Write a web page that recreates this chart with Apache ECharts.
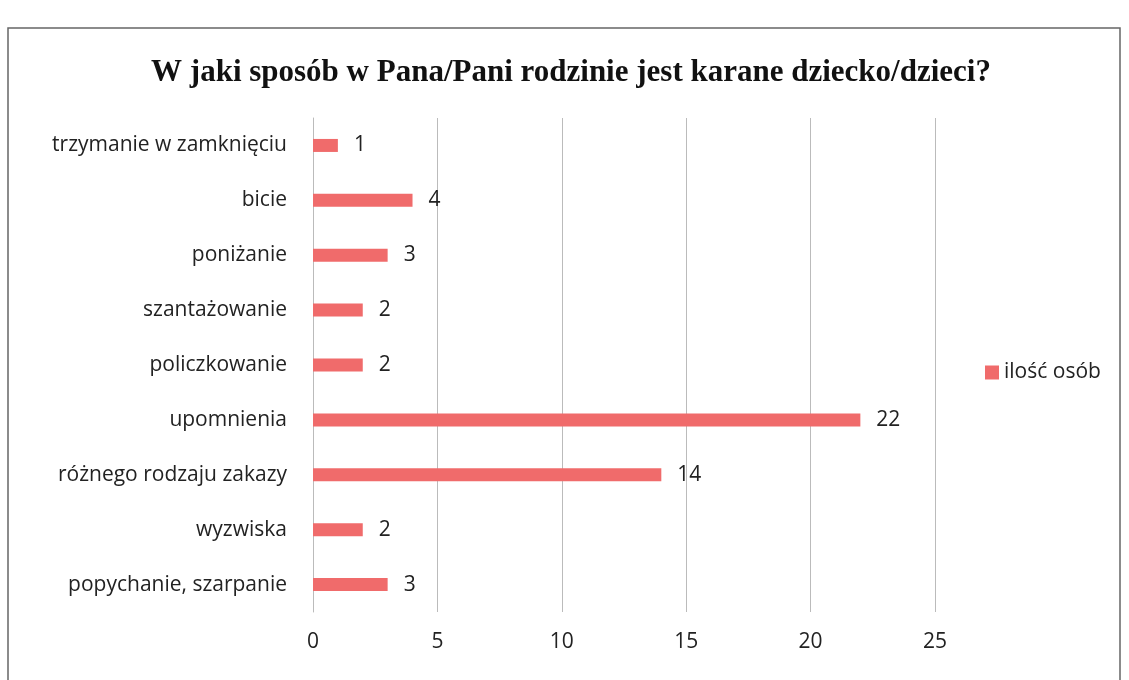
<!DOCTYPE html>
<html>
<head>
<meta charset="utf-8">
<script src="https://cdn.jsdelivr.net/npm/echarts@6/dist/echarts.min.js"></script>
<style>
  html, body { margin: 0; padding: 0; background: #fff; }
  #chart { width: 1129px; height: 680px; }
</style>
</head>
<body>
<div id="chart"></div>
<script>
// categories from top to bottom
var categories = ['trzymanie w zamknięciu', 'bicie', 'poniżanie', 'szantażowanie', 'policzkowanie',
  'upomnienia', 'różnego rodzaju zakazy', 'wyzwiska', 'popychanie, szarpanie']
var values = [1, 4, 3, 2, 2, 22, 14, 2, 3]
var seriesName = 'ilość osób'
var titleText = 'W jaki sposób w Pana/Pani rodzinie jest karane dziecko/dzieci?'

var chart = echarts.init(document.getElementById('chart'))

var option = {
  backgroundColor: '#fff',
  animation: false,
  title: {
    text: titleText,
    left: 566,
    top: 52,
    textAlign: 'center',
    textStyle: {
      fontFamily: 'Liberation Serif',
      fontWeight: 'bold',
      fontSize: 31,
      color: '#111'
    }
  },
  graphic: [{
    type: 'rect',
    shape: { x: 8, y: 28, width: 1112, height: 670 },
    style: { fill: 'none', stroke: '#666', lineWidth: 1.5 }
  }],
  legend: {
    data: [seriesName],
    left: 980,
    top: 357,
    itemWidth: 14,
    itemHeight: 14,
    itemGap: 6,
    icon: 'rect',
    textStyle: { fontFamily: 'Open Sans', fontSize: 21, color: '#222' }
  },
  grid: {
    left: 313,
    right: 194,
    top: 118,
    bottom: 68
  },
  xAxis: {
    type: 'value',
    min: 0,
    max: 25,
    interval: 5,
    axisLine: { show: false },
    axisTick: { show: false },
    splitLine: { lineStyle: { color: '#bbb', width: 1 } },
    axisLabel: { fontFamily: 'Open Sans', fontSize: 21, color: '#222', margin: 20 }
  },
  yAxis: {
    type: 'category',
    inverse: true,
    data: categories,
    axisLine: { show: true, lineStyle: { color: '#bbb' } },
    axisTick: { show: false },
    axisLabel: { fontFamily: 'Open Sans', fontSize: 21, color: '#222', margin: 26 }
  },
  series: [{
    name: seriesName,
    type: 'bar',
    data: values,
    barWidth: 13,
    itemStyle: { color: '#f06b6b' },
    label: {
      show: true,
      position: 'right',
      distance: 16,
      fontFamily: 'Open Sans',
      fontSize: 21,
      color: '#222'
    }
  }]
}

chart.setOption(option)
</script>
</body>
</html>
